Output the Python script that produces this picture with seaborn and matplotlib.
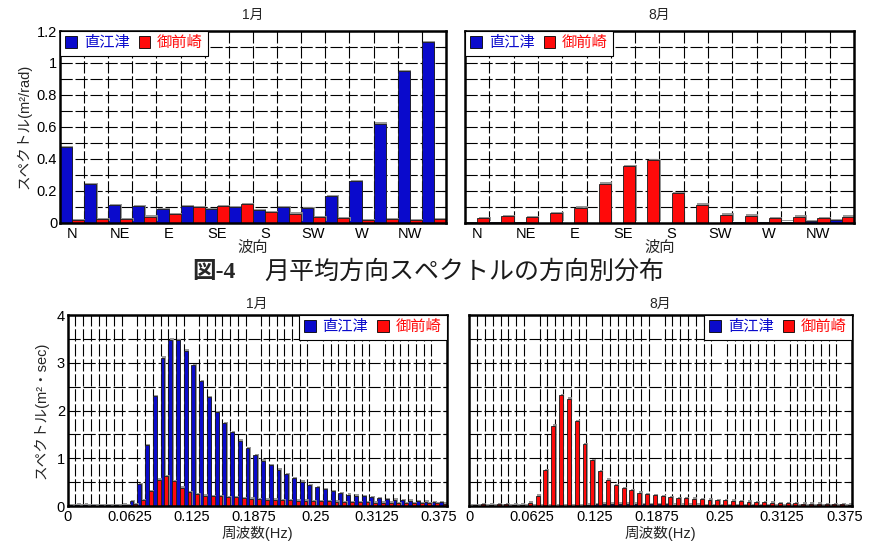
import pandas as pd
import seaborn as sns
import matplotlib
matplotlib.use("Agg")
import matplotlib.pyplot as plt
from matplotlib import patheffects as pe
from matplotlib.ticker import MultipleLocator, FuncFormatter, FixedLocator

# ---------------- data ----------------
sites = ["直江津", "御前崎"]

directions = ["N", "NNE", "NE", "ENE", "E", "ESE", "SE", "SSE",
              "S", "SSW", "SW", "WSW", "W", "WNW", "NW", "NNW"]
direction_labels = ["N", "NE", "E", "SE", "S", "SW", "W", "NW"]

# monthly mean directional spectrum (m^2/rad)
jan_dir_naoetsu = [0.474, 0.240, 0.109, 0.102, 0.086, 0.104, 0.086, 0.096,
                   0.077, 0.096, 0.090, 0.165, 0.259, 0.620, 0.948, 1.130]
jan_dir_omaezaki = [0.017, 0.023, 0.023, 0.038, 0.052, 0.096, 0.104, 0.115,
                    0.067, 0.056, 0.033, 0.027, 0.017, 0.021, 0.017, 0.021]
aug_dir_naoetsu = [0.005, 0.005, 0.002, 0.001, 0.001, 0.001, 0.001, 0.001,
                   0.001, 0.001, 0.001, 0.002, 0.003, 0.006, 0.010, 0.017]
aug_dir_omaezaki = [0.030, 0.042, 0.036, 0.058, 0.093, 0.245, 0.353, 0.392,
                    0.185, 0.112, 0.050, 0.044, 0.030, 0.037, 0.030, 0.038]

# frequency spectrum (m^2*sec), bins of 1/128 Hz starting at 0 Hz
freq_bins = list(range(49))
freq_tick_labels = ["0", "0.0625", "0.125", "0.1875", "0.25", "0.3125", "0.375"]

jan_freq_naoetsu = [0.02, 0.03, 0.03, 0.02, 0.02, 0.02, 0.02, 0.03,
                    0.10, 0.46, 1.27, 2.30, 3.11, 3.48, 3.47, 3.25,
                    2.95, 2.62, 2.28, 1.96, 1.73, 1.55, 1.37, 1.21,
                    1.07, 0.95, 0.85, 0.76, 0.66, 0.58, 0.51, 0.44,
                    0.39, 0.35, 0.31, 0.27, 0.24, 0.22, 0.20, 0.18,
                    0.16, 0.14, 0.13, 0.12, 0.11, 0.10, 0.09, 0.085, 0.08]
jan_freq_omaezaki = [0.01, 0.01, 0.01, 0.01, 0.01, 0.01, 0.01, 0.02,
                     0.04, 0.12, 0.31, 0.55, 0.63, 0.52, 0.38, 0.29,
                     0.245, 0.22, 0.21, 0.20, 0.19, 0.19, 0.17, 0.15,
                     0.14, 0.135, 0.13, 0.125, 0.12, 0.115, 0.11, 0.105,
                     0.10, 0.095, 0.09, 0.085, 0.08, 0.078, 0.075, 0.072,
                     0.07, 0.068, 0.065, 0.062, 0.06, 0.058, 0.056, 0.054, 0.052]
aug_freq_naoetsu = [0.003, 0.003, 0.003, 0.003, 0.003, 0.003, 0.003, 0.003,
                    0.003, 0.003, 0.003, 0.003, 0.003, 0.005, 0.010, 0.030,
                    0.040, 0.050, 0.050, 0.050, 0.045, 0.045, 0.040, 0.040,
                    0.035, 0.035, 0.030, 0.030, 0.025, 0.025, 0.020, 0.020,
                    0.018, 0.016, 0.015, 0.014, 0.013, 0.012, 0.011, 0.010,
                    0.010, 0.009, 0.008, 0.008, 0.007, 0.007, 0.006, 0.006, 0.005]
aug_freq_omaezaki = [0.02, 0.04, 0.03, 0.04, 0.04, 0.03, 0.03, 0.07,
                     0.22, 0.75, 1.68, 2.32, 2.25, 1.77, 1.29, 0.96,
                     0.73, 0.55, 0.43, 0.37, 0.33, 0.28, 0.25, 0.23,
                     0.20, 0.18, 0.17, 0.16, 0.15, 0.14, 0.13, 0.12,
                     0.12, 0.11, 0.10, 0.09, 0.085, 0.08, 0.07, 0.065,
                     0.06, 0.055, 0.05, 0.05, 0.045, 0.04, 0.035, 0.035, 0.03]

# ---------------- style ----------------
sns.set_theme(style="white")
plt.rcParams["font.family"] = ["Liberation Sans", "Noto Sans CJK JP"]
plt.rcParams["axes.unicode_minus"] = False

BLUE = "#0A0ACC"
RED = "#FF0A0A"
palette = {sites[0]: BLUE, sites[1]: RED}
GRID_STYLE = dict(color="black", linestyle=(0, (11, 2.5)), linewidth=0.8)

fig = plt.figure(figsize=(8.78, 5.42), dpi=100)
ax_tl = fig.add_axes([0.0683, 0.5891, 0.4396, 0.3537])
ax_tr = fig.add_axes([0.5296, 0.5891, 0.4430, 0.3537])
ax_bl = fig.add_axes([0.0771, 0.0664, 0.4317, 0.3524])
ax_br = fig.add_axes([0.5345, 0.0664, 0.4359, 0.3524])


def long_frame(cats, a, b):
    return pd.DataFrame({
        "x": list(cats) * 2,
        "value": list(a) + list(b),
        "site": [sites[0]] * len(a) + [sites[1]] * len(b),
    })


def draw_bars(ax, df, order):
    sns.barplot(data=df, x="x", y="value", hue="site", order=order,
                hue_order=sites, palette=palette, width=1.0, dodge=True,
                saturation=1, errorbar=None, edgecolor="#1a1a1a",
                linewidth=0.6, ax=ax)
    for p in ax.patches:
        p.set_path_effects([
            pe.SimplePatchShadow(offset=(1.0, 1.0), shadow_rgbFace="0.55", alpha=0.9),
            pe.Normal(),
        ])


def frame(ax):
    ax.set_axisbelow(True)
    for s in ax.spines.values():
        s.set_visible(True)
        s.set_color("black")
        s.set_linewidth(1.8)
    ax.tick_params(axis="y", which="both", direction="in", right=True,
                   length=3, width=0.8, labelsize=10.5, pad=2, colors="black")
    ax.tick_params(axis="x", which="both", length=0, labelsize=10.5, pad=3,
                   colors="black")
    ax.yaxis.set_major_formatter(FuncFormatter(lambda v, p: f"{v:g}"))


def add_legend(ax, loc):
    sns.move_legend(ax, loc, bbox_to_anchor=(0 if "left" in loc else 1, 1),
                    ncol=2, title=None, frameon=True, fancybox=False,
                    borderaxespad=0, handlelength=0.75, handleheight=0.75,
                    handletextpad=0.45, columnspacing=0.6, borderpad=0.35,
                    fontsize=11, labelcolor=[BLUE, RED])
    leg = ax.get_legend()
    leg.get_frame().set_edgecolor("black")
    leg.get_frame().set_linewidth(0.8)
    leg.get_frame().set_alpha(1)
    for h in leg.get_patches():
        h.set_edgecolor("black")
        h.set_linewidth(0.6)


# ---- directional spectra ----
for ax, a, b, title, show_y in [
    (ax_tl, jan_dir_naoetsu, jan_dir_omaezaki, "1月", True),
    (ax_tr, aug_dir_naoetsu, aug_dir_omaezaki, "8月", False),
]:
    draw_bars(ax, long_frame(directions, a, b), directions)
    ax.set_xlim(-0.5, len(directions) - 0.5)
    ax.set_ylim(0, 1.2)
    ax.yaxis.set_major_locator(MultipleLocator(0.2))
    ax.yaxis.set_minor_locator(MultipleLocator(0.1))
    ax.set_xticks(range(0, len(directions), 2), direction_labels)
    ax.xaxis.set_minor_locator(FixedLocator([i - 0.5 for i in range(1, len(directions))]))
    frame(ax)
    ax.yaxis.grid(True, which="both", **GRID_STYLE)
    ax.xaxis.grid(False, which="major")
    ax.xaxis.grid(True, which="minor", **GRID_STYLE)
    ax.set_title(title, fontsize=10, pad=9)
    ax.set_xlabel("波向", fontsize=11, labelpad=0)
    if show_y:
        ax.set_ylabel("スペクトル(m²/rad)", fontsize=10.5, labelpad=4)
    else:
        ax.set_ylabel("")
        ax.tick_params(labelleft=False)
    add_legend(ax, "upper left")

# ---- frequency spectra ----
freq_tick_pos = [8 * i - 0.5 for i in range(len(freq_tick_labels))]
for ax, a, b, title, show_y in [
    (ax_bl, jan_freq_naoetsu, jan_freq_omaezaki, "1月", True),
    (ax_br, aug_freq_naoetsu, aug_freq_omaezaki, "8月", False),
]:
    draw_bars(ax, long_frame(freq_bins, a, b), freq_bins)
    ax.set_xlim(-0.5, len(freq_bins) - 0.5)
    ax.set_ylim(0, 4)
    ax.yaxis.set_major_locator(MultipleLocator(1))
    ax.yaxis.set_minor_locator(MultipleLocator(0.5))
    ax.set_xticks(freq_tick_pos, freq_tick_labels)
    ax.xaxis.set_minor_locator(FixedLocator([k - 0.5 for k in range(len(freq_bins) + 1)]))
    frame(ax)
    ax.yaxis.grid(True, which="both", **GRID_STYLE)
    ax.xaxis.grid(False, which="major")
    ax.xaxis.grid(True, which="minor", **GRID_STYLE)
    ax.set_title(title, fontsize=10, pad=5)
    ax.set_xlabel("周波数(Hz)", fontsize=10.5, labelpad=1)
    if show_y:
        ax.set_ylabel("スペクトル(m²・sec)", fontsize=10.5, labelpad=6)
    else:
        ax.set_ylabel("")
        ax.tick_params(labelleft=False)
    add_legend(ax, "upper right")

# ---- figure caption ----
cap_y = 1 - 272 / 542
fig.text(192 / 878, cap_y, "図-4", fontsize=17, fontweight="bold",
         family=["Liberation Serif", "Noto Sans CJK JP"], va="center", ha="left")
fig.text(264 / 878, cap_y, "月平均方向スペクトルの方向別分布", fontsize=18,
         family=["Noto Sans CJK JP"], va="center", ha="left", color="#1a1a1a")

fig.savefig("out.png", dpi=100)
